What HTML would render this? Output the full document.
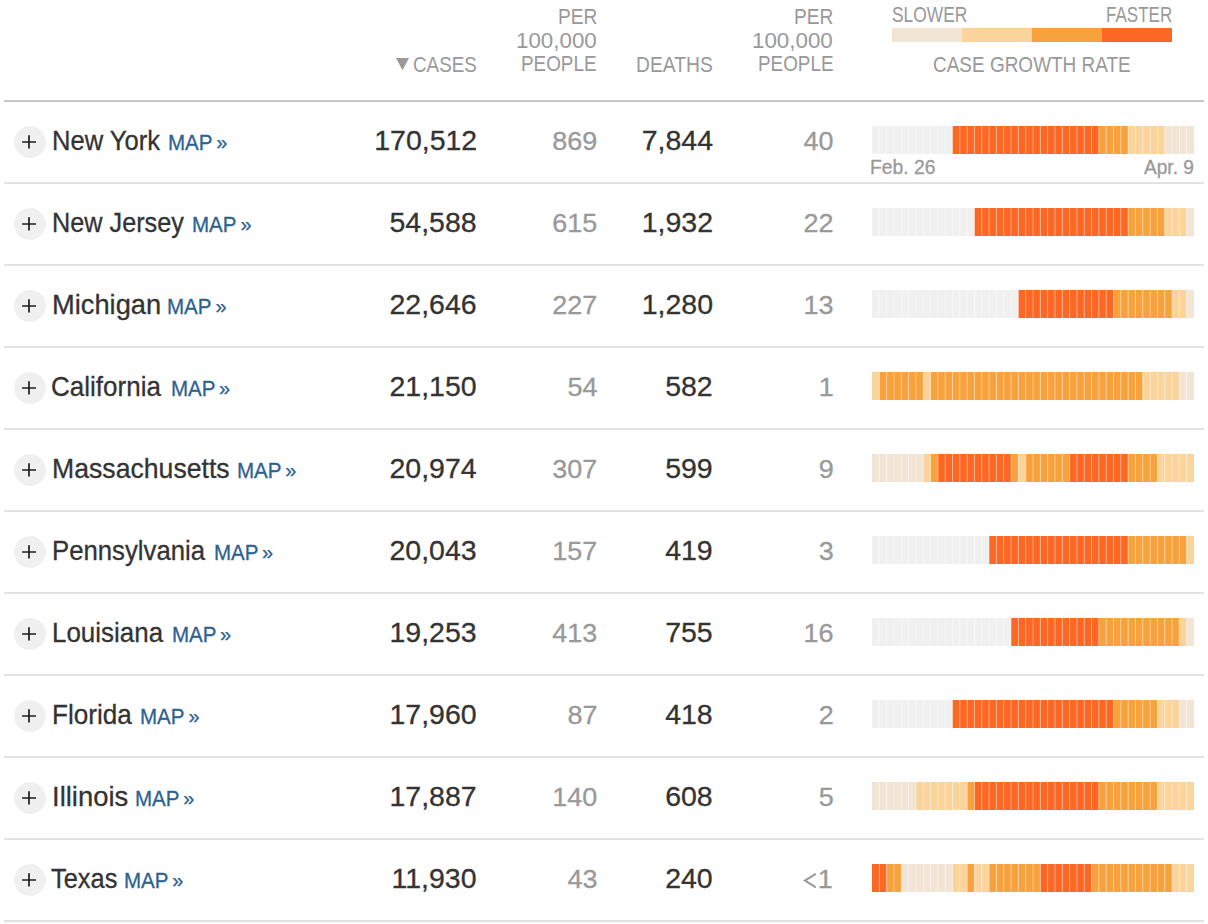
<!DOCTYPE html><html><head><meta charset="utf-8"><style>
*{margin:0;padding:0;box-sizing:border-box}
html,body{width:1208px;height:924px;background:#fff;overflow:hidden}
body{position:relative;font-family:"Liberation Sans",sans-serif}
.a{-webkit-text-stroke:0.3px currentColor}
.a{position:absolute;white-space:nowrap}
.hd{color:#999;font-size:20px;line-height:23.6px;text-align:right}
.ln{position:absolute;left:4px;width:1200px;height:2px}
.circ{position:absolute;left:14px;width:32px;height:32px;border-radius:50%;background:#f0f0f0}
.nm{font-size:28px;line-height:28px;color:#333;transform-origin:0 0}
.mp{font-size:22px;line-height:22px;color:#2c6190;transform-origin:0 0}
.num{font-size:28px;line-height:28px;color:#333;text-align:right;transform-origin:100% 0;transform:scaleX(1.018)}
.gr{color:#999}
.bar{position:absolute;left:872px;width:322px;height:28px}
.bar i{position:absolute;top:0;height:28px;display:block}
.bar i+i{box-shadow:inset 1px 0 0 rgba(255,255,255,.35)}
</style></head><body>
<svg class="a" style="left:0;top:0" width="420" height="80"><path d="M396 58H409L402.5 70.3Z" fill="#999"/></svg>
<div class="a" style="left:413.46px;top:53.55px;font-size:22.5px;line-height:22.5px;color:#999;transform-origin:0 0;transform:scaleX(0.8363);-webkit-text-stroke:0">CASES</div>
<div class="a" style="left:557.53px;top:5.95px;font-size:22.5px;line-height:22.5px;color:#999;transform-origin:0 0;transform:scaleX(0.8529);-webkit-text-stroke:0">PER</div>
<div class="a" style="left:516.20px;top:29.95px;font-size:22.5px;line-height:22.5px;color:#999;transform-origin:0 0;transform:scaleX(0.9927);-webkit-text-stroke:0">100,000</div>
<div class="a" style="left:521.35px;top:53.15px;font-size:22.5px;line-height:22.5px;color:#999;transform-origin:0 0;transform:scaleX(0.8389);-webkit-text-stroke:0">PEOPLE</div>
<div class="a" style="left:793.73px;top:5.95px;font-size:22.5px;line-height:22.5px;color:#999;transform-origin:0 0;transform:scaleX(0.8529);-webkit-text-stroke:0">PER</div>
<div class="a" style="left:752.40px;top:29.95px;font-size:22.5px;line-height:22.5px;color:#999;transform-origin:0 0;transform:scaleX(0.9927);-webkit-text-stroke:0">100,000</div>
<div class="a" style="left:757.55px;top:53.15px;font-size:22.5px;line-height:22.5px;color:#999;transform-origin:0 0;transform:scaleX(0.8389);-webkit-text-stroke:0">PEOPLE</div>
<div class="a" style="left:636.12px;top:53.55px;font-size:22.5px;line-height:22.5px;color:#999;transform-origin:0 0;transform:scaleX(0.8566);-webkit-text-stroke:0">DEATHS</div>
<div class="a" style="left:891.62px;top:3.95px;font-size:22.5px;line-height:22.5px;color:#999;transform-origin:0 0;transform:scaleX(0.7720);-webkit-text-stroke:0">SLOWER</div>
<div class="a" style="left:1105.60px;top:3.95px;font-size:22.5px;line-height:22.5px;color:#999;transform-origin:0 0;transform:scaleX(0.7573);-webkit-text-stroke:0">FASTER</div>
<div class="a" style="left:892px;top:28px;width:280px;height:14px;display:flex"><i style="flex:1;background:#f3e5d5"></i><i style="flex:1;background:#fbd49b"></i><i style="flex:1;background:#f7a23d"></i><i style="flex:1;background:#fd6724"></i></div>
<div class="a" style="left:933.35px;top:53.85px;font-size:22.5px;line-height:22.5px;color:#999;transform-origin:0 0;transform:scaleX(0.8430);-webkit-text-stroke:0">CASE GROWTH RATE</div>
<div class="ln" style="top:100px;background:#c6c6c6"></div>
<div class="circ" style="top:126px"></div>
<svg class="a" style="left:14px;top:126px" width="32" height="32"><path d="M8.1 16H22M15 9.2V22.6" stroke="#1e1e1e" stroke-width="1.7" fill="none"/></svg>
<div class="a nm" style="left:52.40px;top:126.60px;transform:scaleX(0.9133)">New York</div>
<div class="a mp" style="left:168.10px;top:131.55px;font-size:22.5px;line-height:22.5px;transform:scaleX(0.9130)">MAP</div>
<div class="a mp" style="left:216.30px;top:132.47px;font-size:20px;line-height:20px">»</div>
<div class="a num" style="right:731.00px;top:126.60px;font-size:28.0px;line-height:28.0px">170,512</div>
<div class="a num gr" style="right:610.60px;top:127.87px;font-size:26.5px;line-height:26.5px">869</div>
<div class="a num" style="right:494.90px;top:126.60px;font-size:28.0px;line-height:28.0px">7,844</div>
<div class="a num gr" style="right:374.40px;top:127.87px;font-size:26.5px;line-height:26.5px">40</div>
<svg class="a" style="left:872px;top:126px" width="322" height="28"><rect x="0.000" y="0" width="7.338" height="28" fill="#f0f0f0"/><rect x="7.318" y="0" width="7.338" height="28" fill="#f0f0f0"/><rect x="14.636" y="0" width="7.338" height="28" fill="#f0f0f0"/><rect x="21.955" y="0" width="7.338" height="28" fill="#f0f0f0"/><rect x="29.273" y="0" width="7.338" height="28" fill="#f0f0f0"/><rect x="36.591" y="0" width="7.338" height="28" fill="#f0f0f0"/><rect x="43.909" y="0" width="7.338" height="28" fill="#f0f0f0"/><rect x="51.227" y="0" width="7.338" height="28" fill="#f0f0f0"/><rect x="58.545" y="0" width="7.338" height="28" fill="#f0f0f0"/><rect x="65.864" y="0" width="7.338" height="28" fill="#f0f0f0"/><rect x="73.182" y="0" width="7.338" height="28" fill="#f0f0f0"/><rect x="80.500" y="0" width="7.338" height="28" fill="#fd6724"/><rect x="87.818" y="0" width="7.338" height="28" fill="#fd6724"/><rect x="95.136" y="0" width="7.338" height="28" fill="#fd6724"/><rect x="102.455" y="0" width="7.338" height="28" fill="#fd6724"/><rect x="109.773" y="0" width="7.338" height="28" fill="#fd6724"/><rect x="117.091" y="0" width="7.338" height="28" fill="#fd6724"/><rect x="124.409" y="0" width="7.338" height="28" fill="#fd6724"/><rect x="131.727" y="0" width="7.338" height="28" fill="#fd6724"/><rect x="139.045" y="0" width="7.338" height="28" fill="#fd6724"/><rect x="146.364" y="0" width="7.338" height="28" fill="#fd6724"/><rect x="153.682" y="0" width="7.338" height="28" fill="#fd6724"/><rect x="161.000" y="0" width="7.338" height="28" fill="#fd6724"/><rect x="168.318" y="0" width="7.338" height="28" fill="#fd6724"/><rect x="175.636" y="0" width="7.338" height="28" fill="#fd6724"/><rect x="182.955" y="0" width="7.338" height="28" fill="#fd6724"/><rect x="190.273" y="0" width="7.338" height="28" fill="#fd6724"/><rect x="197.591" y="0" width="7.338" height="28" fill="#fd6724"/><rect x="204.909" y="0" width="7.338" height="28" fill="#fd6724"/><rect x="212.227" y="0" width="7.338" height="28" fill="#fd6724"/><rect x="219.545" y="0" width="7.338" height="28" fill="#fd6724"/><rect x="226.864" y="0" width="7.338" height="28" fill="#f7a23d"/><rect x="234.182" y="0" width="7.338" height="28" fill="#f7a23d"/><rect x="241.500" y="0" width="7.338" height="28" fill="#f7a23d"/><rect x="248.818" y="0" width="7.338" height="28" fill="#f7a23d"/><rect x="256.136" y="0" width="7.338" height="28" fill="#fbd49b"/><rect x="263.455" y="0" width="7.338" height="28" fill="#fbd49b"/><rect x="270.773" y="0" width="7.338" height="28" fill="#fbd49b"/><rect x="278.091" y="0" width="7.338" height="28" fill="#fbd49b"/><rect x="285.409" y="0" width="7.338" height="28" fill="#fbd49b"/><rect x="292.727" y="0" width="7.338" height="28" fill="#f3e5d5"/><rect x="300.045" y="0" width="7.338" height="28" fill="#f3e5d5"/><rect x="307.364" y="0" width="7.338" height="28" fill="#f3e5d5"/><rect x="314.682" y="0" width="7.338" height="28" fill="#f3e5d5"/><g fill="#fff" fill-opacity="0.4"><rect x="6.818" y="0" width="1" height="28"/><rect x="14.136" y="0" width="1" height="28"/><rect x="21.455" y="0" width="1" height="28"/><rect x="28.773" y="0" width="1" height="28"/><rect x="36.091" y="0" width="1" height="28"/><rect x="43.409" y="0" width="1" height="28"/><rect x="50.727" y="0" width="1" height="28"/><rect x="58.045" y="0" width="1" height="28"/><rect x="65.364" y="0" width="1" height="28"/><rect x="72.682" y="0" width="1" height="28"/><rect x="80.000" y="0" width="1" height="28"/><rect x="87.318" y="0" width="1" height="28"/><rect x="94.636" y="0" width="1" height="28"/><rect x="101.955" y="0" width="1" height="28"/><rect x="109.273" y="0" width="1" height="28"/><rect x="116.591" y="0" width="1" height="28"/><rect x="123.909" y="0" width="1" height="28"/><rect x="131.227" y="0" width="1" height="28"/><rect x="138.545" y="0" width="1" height="28"/><rect x="145.864" y="0" width="1" height="28"/><rect x="153.182" y="0" width="1" height="28"/><rect x="160.500" y="0" width="1" height="28"/><rect x="167.818" y="0" width="1" height="28"/><rect x="175.136" y="0" width="1" height="28"/><rect x="182.455" y="0" width="1" height="28"/><rect x="189.773" y="0" width="1" height="28"/><rect x="197.091" y="0" width="1" height="28"/><rect x="204.409" y="0" width="1" height="28"/><rect x="211.727" y="0" width="1" height="28"/><rect x="219.045" y="0" width="1" height="28"/><rect x="226.364" y="0" width="1" height="28"/><rect x="233.682" y="0" width="1" height="28"/><rect x="241.000" y="0" width="1" height="28"/><rect x="248.318" y="0" width="1" height="28"/><rect x="255.636" y="0" width="1" height="28"/><rect x="262.955" y="0" width="1" height="28"/><rect x="270.273" y="0" width="1" height="28"/><rect x="277.591" y="0" width="1" height="28"/><rect x="284.909" y="0" width="1" height="28"/><rect x="292.227" y="0" width="1" height="28"/><rect x="299.545" y="0" width="1" height="28"/><rect x="306.864" y="0" width="1" height="28"/><rect x="314.182" y="0" width="1" height="28"/></g></svg>
<div class="a" style="left:870.02px;top:156.87px;font-size:20.0px;line-height:20.0px;color:#999;transform-origin:0 0;transform:scaleX(0.9645)">Feb. 26</div>
<div class="a" style="left:1143.56px;top:156.87px;font-size:20.0px;line-height:20.0px;color:#999;transform-origin:0 0;transform:scaleX(0.9555)">Apr. 9</div>
<div class="ln" style="top:182px;background:#e2e2e2"></div>
<div class="circ" style="top:208px"></div>
<svg class="a" style="left:14px;top:208px" width="32" height="32"><path d="M8.1 16H22M15 9.2V22.6" stroke="#1e1e1e" stroke-width="1.7" fill="none"/></svg>
<div class="a nm" style="left:52.23px;top:208.60px;transform:scaleX(0.9019)">New Jersey</div>
<div class="a mp" style="left:192.40px;top:213.55px;font-size:22.5px;line-height:22.5px;transform:scaleX(0.9130)">MAP</div>
<div class="a mp" style="left:240.60px;top:214.47px;font-size:20px;line-height:20px">»</div>
<div class="a num" style="right:731.00px;top:208.60px;font-size:28.0px;line-height:28.0px">54,588</div>
<div class="a num gr" style="right:610.60px;top:209.87px;font-size:26.5px;line-height:26.5px">615</div>
<div class="a num" style="right:494.90px;top:208.60px;font-size:28.0px;line-height:28.0px">1,932</div>
<div class="a num gr" style="right:374.40px;top:209.87px;font-size:26.5px;line-height:26.5px">22</div>
<svg class="a" style="left:872px;top:208px" width="322" height="28"><rect x="0.000" y="0" width="7.338" height="28" fill="#f0f0f0"/><rect x="7.318" y="0" width="7.338" height="28" fill="#f0f0f0"/><rect x="14.636" y="0" width="7.338" height="28" fill="#f0f0f0"/><rect x="21.955" y="0" width="7.338" height="28" fill="#f0f0f0"/><rect x="29.273" y="0" width="7.338" height="28" fill="#f0f0f0"/><rect x="36.591" y="0" width="7.338" height="28" fill="#f0f0f0"/><rect x="43.909" y="0" width="7.338" height="28" fill="#f0f0f0"/><rect x="51.227" y="0" width="7.338" height="28" fill="#f0f0f0"/><rect x="58.545" y="0" width="7.338" height="28" fill="#f0f0f0"/><rect x="65.864" y="0" width="7.338" height="28" fill="#f0f0f0"/><rect x="73.182" y="0" width="7.338" height="28" fill="#f0f0f0"/><rect x="80.500" y="0" width="7.338" height="28" fill="#f0f0f0"/><rect x="87.818" y="0" width="7.338" height="28" fill="#f0f0f0"/><rect x="95.136" y="0" width="7.338" height="28" fill="#f0f0f0"/><rect x="102.455" y="0" width="7.338" height="28" fill="#fd6724"/><rect x="109.773" y="0" width="7.338" height="28" fill="#fd6724"/><rect x="117.091" y="0" width="7.338" height="28" fill="#fd6724"/><rect x="124.409" y="0" width="7.338" height="28" fill="#fd6724"/><rect x="131.727" y="0" width="7.338" height="28" fill="#fd6724"/><rect x="139.045" y="0" width="7.338" height="28" fill="#fd6724"/><rect x="146.364" y="0" width="7.338" height="28" fill="#fd6724"/><rect x="153.682" y="0" width="7.338" height="28" fill="#fd6724"/><rect x="161.000" y="0" width="7.338" height="28" fill="#fd6724"/><rect x="168.318" y="0" width="7.338" height="28" fill="#fd6724"/><rect x="175.636" y="0" width="7.338" height="28" fill="#fd6724"/><rect x="182.955" y="0" width="7.338" height="28" fill="#fd6724"/><rect x="190.273" y="0" width="7.338" height="28" fill="#fd6724"/><rect x="197.591" y="0" width="7.338" height="28" fill="#fd6724"/><rect x="204.909" y="0" width="7.338" height="28" fill="#fd6724"/><rect x="212.227" y="0" width="7.338" height="28" fill="#fd6724"/><rect x="219.545" y="0" width="7.338" height="28" fill="#fd6724"/><rect x="226.864" y="0" width="7.338" height="28" fill="#fd6724"/><rect x="234.182" y="0" width="7.338" height="28" fill="#fd6724"/><rect x="241.500" y="0" width="7.338" height="28" fill="#fd6724"/><rect x="248.818" y="0" width="7.338" height="28" fill="#fd6724"/><rect x="256.136" y="0" width="7.338" height="28" fill="#f7a23d"/><rect x="263.455" y="0" width="7.338" height="28" fill="#f7a23d"/><rect x="270.773" y="0" width="7.338" height="28" fill="#f7a23d"/><rect x="278.091" y="0" width="7.338" height="28" fill="#f7a23d"/><rect x="285.409" y="0" width="7.338" height="28" fill="#f7a23d"/><rect x="292.727" y="0" width="7.338" height="28" fill="#fbd49b"/><rect x="300.045" y="0" width="7.338" height="28" fill="#fbd49b"/><rect x="307.364" y="0" width="7.338" height="28" fill="#fbd49b"/><rect x="314.682" y="0" width="7.338" height="28" fill="#f3e5d5"/><g fill="#fff" fill-opacity="0.4"><rect x="6.818" y="0" width="1" height="28"/><rect x="14.136" y="0" width="1" height="28"/><rect x="21.455" y="0" width="1" height="28"/><rect x="28.773" y="0" width="1" height="28"/><rect x="36.091" y="0" width="1" height="28"/><rect x="43.409" y="0" width="1" height="28"/><rect x="50.727" y="0" width="1" height="28"/><rect x="58.045" y="0" width="1" height="28"/><rect x="65.364" y="0" width="1" height="28"/><rect x="72.682" y="0" width="1" height="28"/><rect x="80.000" y="0" width="1" height="28"/><rect x="87.318" y="0" width="1" height="28"/><rect x="94.636" y="0" width="1" height="28"/><rect x="101.955" y="0" width="1" height="28"/><rect x="109.273" y="0" width="1" height="28"/><rect x="116.591" y="0" width="1" height="28"/><rect x="123.909" y="0" width="1" height="28"/><rect x="131.227" y="0" width="1" height="28"/><rect x="138.545" y="0" width="1" height="28"/><rect x="145.864" y="0" width="1" height="28"/><rect x="153.182" y="0" width="1" height="28"/><rect x="160.500" y="0" width="1" height="28"/><rect x="167.818" y="0" width="1" height="28"/><rect x="175.136" y="0" width="1" height="28"/><rect x="182.455" y="0" width="1" height="28"/><rect x="189.773" y="0" width="1" height="28"/><rect x="197.091" y="0" width="1" height="28"/><rect x="204.409" y="0" width="1" height="28"/><rect x="211.727" y="0" width="1" height="28"/><rect x="219.045" y="0" width="1" height="28"/><rect x="226.364" y="0" width="1" height="28"/><rect x="233.682" y="0" width="1" height="28"/><rect x="241.000" y="0" width="1" height="28"/><rect x="248.318" y="0" width="1" height="28"/><rect x="255.636" y="0" width="1" height="28"/><rect x="262.955" y="0" width="1" height="28"/><rect x="270.273" y="0" width="1" height="28"/><rect x="277.591" y="0" width="1" height="28"/><rect x="284.909" y="0" width="1" height="28"/><rect x="292.227" y="0" width="1" height="28"/><rect x="299.545" y="0" width="1" height="28"/><rect x="306.864" y="0" width="1" height="28"/><rect x="314.182" y="0" width="1" height="28"/></g></svg>
<div class="ln" style="top:264px;background:#e2e2e2"></div>
<div class="circ" style="top:290px"></div>
<svg class="a" style="left:14px;top:290px" width="32" height="32"><path d="M8.1 16H22M15 9.2V22.6" stroke="#1e1e1e" stroke-width="1.7" fill="none"/></svg>
<div class="a nm" style="left:52.06px;top:290.60px;transform:scaleX(0.9744)">Michigan</div>
<div class="a mp" style="left:167.40px;top:295.55px;font-size:22.5px;line-height:22.5px;transform:scaleX(0.9130)">MAP</div>
<div class="a mp" style="left:215.60px;top:296.47px;font-size:20px;line-height:20px">»</div>
<div class="a num" style="right:731.00px;top:290.60px;font-size:28.0px;line-height:28.0px">22,646</div>
<div class="a num gr" style="right:610.60px;top:291.87px;font-size:26.5px;line-height:26.5px">227</div>
<div class="a num" style="right:494.90px;top:290.60px;font-size:28.0px;line-height:28.0px">1,280</div>
<div class="a num gr" style="right:374.40px;top:291.87px;font-size:26.5px;line-height:26.5px">13</div>
<svg class="a" style="left:872px;top:290px" width="322" height="28"><rect x="0.000" y="0" width="7.338" height="28" fill="#f0f0f0"/><rect x="7.318" y="0" width="7.338" height="28" fill="#f0f0f0"/><rect x="14.636" y="0" width="7.338" height="28" fill="#f0f0f0"/><rect x="21.955" y="0" width="7.338" height="28" fill="#f0f0f0"/><rect x="29.273" y="0" width="7.338" height="28" fill="#f0f0f0"/><rect x="36.591" y="0" width="7.338" height="28" fill="#f0f0f0"/><rect x="43.909" y="0" width="7.338" height="28" fill="#f0f0f0"/><rect x="51.227" y="0" width="7.338" height="28" fill="#f0f0f0"/><rect x="58.545" y="0" width="7.338" height="28" fill="#f0f0f0"/><rect x="65.864" y="0" width="7.338" height="28" fill="#f0f0f0"/><rect x="73.182" y="0" width="7.338" height="28" fill="#f0f0f0"/><rect x="80.500" y="0" width="7.338" height="28" fill="#f0f0f0"/><rect x="87.818" y="0" width="7.338" height="28" fill="#f0f0f0"/><rect x="95.136" y="0" width="7.338" height="28" fill="#f0f0f0"/><rect x="102.455" y="0" width="7.338" height="28" fill="#f0f0f0"/><rect x="109.773" y="0" width="7.338" height="28" fill="#f0f0f0"/><rect x="117.091" y="0" width="7.338" height="28" fill="#f0f0f0"/><rect x="124.409" y="0" width="7.338" height="28" fill="#f0f0f0"/><rect x="131.727" y="0" width="7.338" height="28" fill="#f0f0f0"/><rect x="139.045" y="0" width="7.338" height="28" fill="#f0f0f0"/><rect x="146.364" y="0" width="7.338" height="28" fill="#fd6724"/><rect x="153.682" y="0" width="7.338" height="28" fill="#fd6724"/><rect x="161.000" y="0" width="7.338" height="28" fill="#fd6724"/><rect x="168.318" y="0" width="7.338" height="28" fill="#fd6724"/><rect x="175.636" y="0" width="7.338" height="28" fill="#fd6724"/><rect x="182.955" y="0" width="7.338" height="28" fill="#fd6724"/><rect x="190.273" y="0" width="7.338" height="28" fill="#fd6724"/><rect x="197.591" y="0" width="7.338" height="28" fill="#fd6724"/><rect x="204.909" y="0" width="7.338" height="28" fill="#fd6724"/><rect x="212.227" y="0" width="7.338" height="28" fill="#fd6724"/><rect x="219.545" y="0" width="7.338" height="28" fill="#fd6724"/><rect x="226.864" y="0" width="7.338" height="28" fill="#fd6724"/><rect x="234.182" y="0" width="7.338" height="28" fill="#fd6724"/><rect x="241.500" y="0" width="7.338" height="28" fill="#f7a23d"/><rect x="248.818" y="0" width="7.338" height="28" fill="#f7a23d"/><rect x="256.136" y="0" width="7.338" height="28" fill="#f7a23d"/><rect x="263.455" y="0" width="7.338" height="28" fill="#f7a23d"/><rect x="270.773" y="0" width="7.338" height="28" fill="#f7a23d"/><rect x="278.091" y="0" width="7.338" height="28" fill="#f7a23d"/><rect x="285.409" y="0" width="7.338" height="28" fill="#f7a23d"/><rect x="292.727" y="0" width="7.338" height="28" fill="#f7a23d"/><rect x="300.045" y="0" width="7.338" height="28" fill="#fbd49b"/><rect x="307.364" y="0" width="7.338" height="28" fill="#fbd49b"/><rect x="314.682" y="0" width="7.338" height="28" fill="#f3e5d5"/><g fill="#fff" fill-opacity="0.4"><rect x="6.818" y="0" width="1" height="28"/><rect x="14.136" y="0" width="1" height="28"/><rect x="21.455" y="0" width="1" height="28"/><rect x="28.773" y="0" width="1" height="28"/><rect x="36.091" y="0" width="1" height="28"/><rect x="43.409" y="0" width="1" height="28"/><rect x="50.727" y="0" width="1" height="28"/><rect x="58.045" y="0" width="1" height="28"/><rect x="65.364" y="0" width="1" height="28"/><rect x="72.682" y="0" width="1" height="28"/><rect x="80.000" y="0" width="1" height="28"/><rect x="87.318" y="0" width="1" height="28"/><rect x="94.636" y="0" width="1" height="28"/><rect x="101.955" y="0" width="1" height="28"/><rect x="109.273" y="0" width="1" height="28"/><rect x="116.591" y="0" width="1" height="28"/><rect x="123.909" y="0" width="1" height="28"/><rect x="131.227" y="0" width="1" height="28"/><rect x="138.545" y="0" width="1" height="28"/><rect x="145.864" y="0" width="1" height="28"/><rect x="153.182" y="0" width="1" height="28"/><rect x="160.500" y="0" width="1" height="28"/><rect x="167.818" y="0" width="1" height="28"/><rect x="175.136" y="0" width="1" height="28"/><rect x="182.455" y="0" width="1" height="28"/><rect x="189.773" y="0" width="1" height="28"/><rect x="197.091" y="0" width="1" height="28"/><rect x="204.409" y="0" width="1" height="28"/><rect x="211.727" y="0" width="1" height="28"/><rect x="219.045" y="0" width="1" height="28"/><rect x="226.364" y="0" width="1" height="28"/><rect x="233.682" y="0" width="1" height="28"/><rect x="241.000" y="0" width="1" height="28"/><rect x="248.318" y="0" width="1" height="28"/><rect x="255.636" y="0" width="1" height="28"/><rect x="262.955" y="0" width="1" height="28"/><rect x="270.273" y="0" width="1" height="28"/><rect x="277.591" y="0" width="1" height="28"/><rect x="284.909" y="0" width="1" height="28"/><rect x="292.227" y="0" width="1" height="28"/><rect x="299.545" y="0" width="1" height="28"/><rect x="306.864" y="0" width="1" height="28"/><rect x="314.182" y="0" width="1" height="28"/></g></svg>
<div class="ln" style="top:346px;background:#e2e2e2"></div>
<div class="circ" style="top:372px"></div>
<svg class="a" style="left:14px;top:372px" width="32" height="32"><path d="M8.1 16H22M15 9.2V22.6" stroke="#1e1e1e" stroke-width="1.7" fill="none"/></svg>
<div class="a nm" style="left:51.20px;top:372.60px;transform:scaleX(0.9290)">California</div>
<div class="a mp" style="left:170.70px;top:377.55px;font-size:22.5px;line-height:22.5px;transform:scaleX(0.9130)">MAP</div>
<div class="a mp" style="left:218.90px;top:378.47px;font-size:20px;line-height:20px">»</div>
<div class="a num" style="right:731.00px;top:372.60px;font-size:28.0px;line-height:28.0px">21,150</div>
<div class="a num gr" style="right:610.60px;top:373.87px;font-size:26.5px;line-height:26.5px">54</div>
<div class="a num" style="right:494.90px;top:372.60px;font-size:28.0px;line-height:28.0px">582</div>
<div class="a num gr" style="right:374.40px;top:373.87px;font-size:26.5px;line-height:26.5px">1</div>
<svg class="a" style="left:872px;top:372px" width="322" height="28"><rect x="0.000" y="0" width="7.338" height="28" fill="#fbd49b"/><rect x="7.318" y="0" width="7.338" height="28" fill="#f7a23d"/><rect x="14.636" y="0" width="7.338" height="28" fill="#f7a23d"/><rect x="21.955" y="0" width="7.338" height="28" fill="#f7a23d"/><rect x="29.273" y="0" width="7.338" height="28" fill="#f7a23d"/><rect x="36.591" y="0" width="7.338" height="28" fill="#f7a23d"/><rect x="43.909" y="0" width="7.338" height="28" fill="#f7a23d"/><rect x="51.227" y="0" width="7.338" height="28" fill="#fbd49b"/><rect x="58.545" y="0" width="7.338" height="28" fill="#f7a23d"/><rect x="65.864" y="0" width="7.338" height="28" fill="#f7a23d"/><rect x="73.182" y="0" width="7.338" height="28" fill="#f7a23d"/><rect x="80.500" y="0" width="7.338" height="28" fill="#f7a23d"/><rect x="87.818" y="0" width="7.338" height="28" fill="#f7a23d"/><rect x="95.136" y="0" width="7.338" height="28" fill="#f7a23d"/><rect x="102.455" y="0" width="7.338" height="28" fill="#f7a23d"/><rect x="109.773" y="0" width="7.338" height="28" fill="#f7a23d"/><rect x="117.091" y="0" width="7.338" height="28" fill="#f7a23d"/><rect x="124.409" y="0" width="7.338" height="28" fill="#f7a23d"/><rect x="131.727" y="0" width="7.338" height="28" fill="#f7a23d"/><rect x="139.045" y="0" width="7.338" height="28" fill="#f7a23d"/><rect x="146.364" y="0" width="7.338" height="28" fill="#f7a23d"/><rect x="153.682" y="0" width="7.338" height="28" fill="#f7a23d"/><rect x="161.000" y="0" width="7.338" height="28" fill="#f7a23d"/><rect x="168.318" y="0" width="7.338" height="28" fill="#f7a23d"/><rect x="175.636" y="0" width="7.338" height="28" fill="#f7a23d"/><rect x="182.955" y="0" width="7.338" height="28" fill="#f7a23d"/><rect x="190.273" y="0" width="7.338" height="28" fill="#f7a23d"/><rect x="197.591" y="0" width="7.338" height="28" fill="#f7a23d"/><rect x="204.909" y="0" width="7.338" height="28" fill="#f7a23d"/><rect x="212.227" y="0" width="7.338" height="28" fill="#f7a23d"/><rect x="219.545" y="0" width="7.338" height="28" fill="#f7a23d"/><rect x="226.864" y="0" width="7.338" height="28" fill="#f7a23d"/><rect x="234.182" y="0" width="7.338" height="28" fill="#f7a23d"/><rect x="241.500" y="0" width="7.338" height="28" fill="#f7a23d"/><rect x="248.818" y="0" width="7.338" height="28" fill="#f7a23d"/><rect x="256.136" y="0" width="7.338" height="28" fill="#f7a23d"/><rect x="263.455" y="0" width="7.338" height="28" fill="#f7a23d"/><rect x="270.773" y="0" width="7.338" height="28" fill="#fbd49b"/><rect x="278.091" y="0" width="7.338" height="28" fill="#fbd49b"/><rect x="285.409" y="0" width="7.338" height="28" fill="#fbd49b"/><rect x="292.727" y="0" width="7.338" height="28" fill="#fbd49b"/><rect x="300.045" y="0" width="7.338" height="28" fill="#fbd49b"/><rect x="307.364" y="0" width="7.338" height="28" fill="#f3e5d5"/><rect x="314.682" y="0" width="7.338" height="28" fill="#f3e5d5"/><g fill="#fff" fill-opacity="0.4"><rect x="6.818" y="0" width="1" height="28"/><rect x="14.136" y="0" width="1" height="28"/><rect x="21.455" y="0" width="1" height="28"/><rect x="28.773" y="0" width="1" height="28"/><rect x="36.091" y="0" width="1" height="28"/><rect x="43.409" y="0" width="1" height="28"/><rect x="50.727" y="0" width="1" height="28"/><rect x="58.045" y="0" width="1" height="28"/><rect x="65.364" y="0" width="1" height="28"/><rect x="72.682" y="0" width="1" height="28"/><rect x="80.000" y="0" width="1" height="28"/><rect x="87.318" y="0" width="1" height="28"/><rect x="94.636" y="0" width="1" height="28"/><rect x="101.955" y="0" width="1" height="28"/><rect x="109.273" y="0" width="1" height="28"/><rect x="116.591" y="0" width="1" height="28"/><rect x="123.909" y="0" width="1" height="28"/><rect x="131.227" y="0" width="1" height="28"/><rect x="138.545" y="0" width="1" height="28"/><rect x="145.864" y="0" width="1" height="28"/><rect x="153.182" y="0" width="1" height="28"/><rect x="160.500" y="0" width="1" height="28"/><rect x="167.818" y="0" width="1" height="28"/><rect x="175.136" y="0" width="1" height="28"/><rect x="182.455" y="0" width="1" height="28"/><rect x="189.773" y="0" width="1" height="28"/><rect x="197.091" y="0" width="1" height="28"/><rect x="204.409" y="0" width="1" height="28"/><rect x="211.727" y="0" width="1" height="28"/><rect x="219.045" y="0" width="1" height="28"/><rect x="226.364" y="0" width="1" height="28"/><rect x="233.682" y="0" width="1" height="28"/><rect x="241.000" y="0" width="1" height="28"/><rect x="248.318" y="0" width="1" height="28"/><rect x="255.636" y="0" width="1" height="28"/><rect x="262.955" y="0" width="1" height="28"/><rect x="270.273" y="0" width="1" height="28"/><rect x="277.591" y="0" width="1" height="28"/><rect x="284.909" y="0" width="1" height="28"/><rect x="292.227" y="0" width="1" height="28"/><rect x="299.545" y="0" width="1" height="28"/><rect x="306.864" y="0" width="1" height="28"/><rect x="314.182" y="0" width="1" height="28"/></g></svg>
<div class="ln" style="top:428px;background:#e2e2e2"></div>
<div class="circ" style="top:454px"></div>
<svg class="a" style="left:14px;top:454px" width="32" height="32"><path d="M8.1 16H22M15 9.2V22.6" stroke="#1e1e1e" stroke-width="1.7" fill="none"/></svg>
<div class="a nm" style="left:52.12px;top:454.60px;transform:scaleX(0.9513)">Massachusetts</div>
<div class="a mp" style="left:237.00px;top:459.55px;font-size:22.5px;line-height:22.5px;transform:scaleX(0.9130)">MAP</div>
<div class="a mp" style="left:285.20px;top:460.47px;font-size:20px;line-height:20px">»</div>
<div class="a num" style="right:731.00px;top:454.60px;font-size:28.0px;line-height:28.0px">20,974</div>
<div class="a num gr" style="right:610.60px;top:455.87px;font-size:26.5px;line-height:26.5px">307</div>
<div class="a num" style="right:494.90px;top:454.60px;font-size:28.0px;line-height:28.0px">599</div>
<div class="a num gr" style="right:374.40px;top:455.87px;font-size:26.5px;line-height:26.5px">9</div>
<svg class="a" style="left:872px;top:454px" width="322" height="28"><rect x="0.000" y="0" width="7.338" height="28" fill="#f3e5d5"/><rect x="7.318" y="0" width="7.338" height="28" fill="#f3e5d5"/><rect x="14.636" y="0" width="7.338" height="28" fill="#f3e5d5"/><rect x="21.955" y="0" width="7.338" height="28" fill="#f3e5d5"/><rect x="29.273" y="0" width="7.338" height="28" fill="#f3e5d5"/><rect x="36.591" y="0" width="7.338" height="28" fill="#f3e5d5"/><rect x="43.909" y="0" width="7.338" height="28" fill="#f3e5d5"/><rect x="51.227" y="0" width="7.338" height="28" fill="#fbd49b"/><rect x="58.545" y="0" width="7.338" height="28" fill="#f7a23d"/><rect x="65.864" y="0" width="7.338" height="28" fill="#fd6724"/><rect x="73.182" y="0" width="7.338" height="28" fill="#fd6724"/><rect x="80.500" y="0" width="7.338" height="28" fill="#fd6724"/><rect x="87.818" y="0" width="7.338" height="28" fill="#fd6724"/><rect x="95.136" y="0" width="7.338" height="28" fill="#fd6724"/><rect x="102.455" y="0" width="7.338" height="28" fill="#fd6724"/><rect x="109.773" y="0" width="7.338" height="28" fill="#fd6724"/><rect x="117.091" y="0" width="7.338" height="28" fill="#fd6724"/><rect x="124.409" y="0" width="7.338" height="28" fill="#fd6724"/><rect x="131.727" y="0" width="7.338" height="28" fill="#fd6724"/><rect x="139.045" y="0" width="7.338" height="28" fill="#f7a23d"/><rect x="146.364" y="0" width="7.338" height="28" fill="#fbd49b"/><rect x="153.682" y="0" width="7.338" height="28" fill="#f7a23d"/><rect x="161.000" y="0" width="7.338" height="28" fill="#f7a23d"/><rect x="168.318" y="0" width="7.338" height="28" fill="#f7a23d"/><rect x="175.636" y="0" width="7.338" height="28" fill="#f7a23d"/><rect x="182.955" y="0" width="7.338" height="28" fill="#f7a23d"/><rect x="190.273" y="0" width="7.338" height="28" fill="#f7a23d"/><rect x="197.591" y="0" width="7.338" height="28" fill="#fd6724"/><rect x="204.909" y="0" width="7.338" height="28" fill="#fd6724"/><rect x="212.227" y="0" width="7.338" height="28" fill="#fd6724"/><rect x="219.545" y="0" width="7.338" height="28" fill="#fd6724"/><rect x="226.864" y="0" width="7.338" height="28" fill="#fd6724"/><rect x="234.182" y="0" width="7.338" height="28" fill="#fd6724"/><rect x="241.500" y="0" width="7.338" height="28" fill="#fd6724"/><rect x="248.818" y="0" width="7.338" height="28" fill="#fd6724"/><rect x="256.136" y="0" width="7.338" height="28" fill="#f7a23d"/><rect x="263.455" y="0" width="7.338" height="28" fill="#f7a23d"/><rect x="270.773" y="0" width="7.338" height="28" fill="#f7a23d"/><rect x="278.091" y="0" width="7.338" height="28" fill="#f7a23d"/><rect x="285.409" y="0" width="7.338" height="28" fill="#fbd49b"/><rect x="292.727" y="0" width="7.338" height="28" fill="#fbd49b"/><rect x="300.045" y="0" width="7.338" height="28" fill="#fbd49b"/><rect x="307.364" y="0" width="7.338" height="28" fill="#fbd49b"/><rect x="314.682" y="0" width="7.338" height="28" fill="#fbd49b"/><g fill="#fff" fill-opacity="0.4"><rect x="6.818" y="0" width="1" height="28"/><rect x="14.136" y="0" width="1" height="28"/><rect x="21.455" y="0" width="1" height="28"/><rect x="28.773" y="0" width="1" height="28"/><rect x="36.091" y="0" width="1" height="28"/><rect x="43.409" y="0" width="1" height="28"/><rect x="50.727" y="0" width="1" height="28"/><rect x="58.045" y="0" width="1" height="28"/><rect x="65.364" y="0" width="1" height="28"/><rect x="72.682" y="0" width="1" height="28"/><rect x="80.000" y="0" width="1" height="28"/><rect x="87.318" y="0" width="1" height="28"/><rect x="94.636" y="0" width="1" height="28"/><rect x="101.955" y="0" width="1" height="28"/><rect x="109.273" y="0" width="1" height="28"/><rect x="116.591" y="0" width="1" height="28"/><rect x="123.909" y="0" width="1" height="28"/><rect x="131.227" y="0" width="1" height="28"/><rect x="138.545" y="0" width="1" height="28"/><rect x="145.864" y="0" width="1" height="28"/><rect x="153.182" y="0" width="1" height="28"/><rect x="160.500" y="0" width="1" height="28"/><rect x="167.818" y="0" width="1" height="28"/><rect x="175.136" y="0" width="1" height="28"/><rect x="182.455" y="0" width="1" height="28"/><rect x="189.773" y="0" width="1" height="28"/><rect x="197.091" y="0" width="1" height="28"/><rect x="204.409" y="0" width="1" height="28"/><rect x="211.727" y="0" width="1" height="28"/><rect x="219.045" y="0" width="1" height="28"/><rect x="226.364" y="0" width="1" height="28"/><rect x="233.682" y="0" width="1" height="28"/><rect x="241.000" y="0" width="1" height="28"/><rect x="248.318" y="0" width="1" height="28"/><rect x="255.636" y="0" width="1" height="28"/><rect x="262.955" y="0" width="1" height="28"/><rect x="270.273" y="0" width="1" height="28"/><rect x="277.591" y="0" width="1" height="28"/><rect x="284.909" y="0" width="1" height="28"/><rect x="292.227" y="0" width="1" height="28"/><rect x="299.545" y="0" width="1" height="28"/><rect x="306.864" y="0" width="1" height="28"/><rect x="314.182" y="0" width="1" height="28"/></g></svg>
<div class="ln" style="top:510px;background:#e2e2e2"></div>
<div class="circ" style="top:536px"></div>
<svg class="a" style="left:14px;top:536px" width="32" height="32"><path d="M8.1 16H22M15 9.2V22.6" stroke="#1e1e1e" stroke-width="1.7" fill="none"/></svg>
<div class="a nm" style="left:52.19px;top:536.60px;transform:scaleX(0.9192)">Pennsylvania</div>
<div class="a mp" style="left:213.80px;top:541.55px;font-size:22.5px;line-height:22.5px;transform:scaleX(0.9130)">MAP</div>
<div class="a mp" style="left:262.00px;top:542.47px;font-size:20px;line-height:20px">»</div>
<div class="a num" style="right:731.00px;top:536.60px;font-size:28.0px;line-height:28.0px">20,043</div>
<div class="a num gr" style="right:610.60px;top:537.87px;font-size:26.5px;line-height:26.5px">157</div>
<div class="a num" style="right:494.90px;top:536.60px;font-size:28.0px;line-height:28.0px">419</div>
<div class="a num gr" style="right:374.40px;top:537.87px;font-size:26.5px;line-height:26.5px">3</div>
<svg class="a" style="left:872px;top:536px" width="322" height="28"><rect x="0.000" y="0" width="7.338" height="28" fill="#f0f0f0"/><rect x="7.318" y="0" width="7.338" height="28" fill="#f0f0f0"/><rect x="14.636" y="0" width="7.338" height="28" fill="#f0f0f0"/><rect x="21.955" y="0" width="7.338" height="28" fill="#f0f0f0"/><rect x="29.273" y="0" width="7.338" height="28" fill="#f0f0f0"/><rect x="36.591" y="0" width="7.338" height="28" fill="#f0f0f0"/><rect x="43.909" y="0" width="7.338" height="28" fill="#f0f0f0"/><rect x="51.227" y="0" width="7.338" height="28" fill="#f0f0f0"/><rect x="58.545" y="0" width="7.338" height="28" fill="#f0f0f0"/><rect x="65.864" y="0" width="7.338" height="28" fill="#f0f0f0"/><rect x="73.182" y="0" width="7.338" height="28" fill="#f0f0f0"/><rect x="80.500" y="0" width="7.338" height="28" fill="#f0f0f0"/><rect x="87.818" y="0" width="7.338" height="28" fill="#f0f0f0"/><rect x="95.136" y="0" width="7.338" height="28" fill="#f0f0f0"/><rect x="102.455" y="0" width="7.338" height="28" fill="#f0f0f0"/><rect x="109.773" y="0" width="7.338" height="28" fill="#f0f0f0"/><rect x="117.091" y="0" width="7.338" height="28" fill="#fd6724"/><rect x="124.409" y="0" width="7.338" height="28" fill="#fd6724"/><rect x="131.727" y="0" width="7.338" height="28" fill="#fd6724"/><rect x="139.045" y="0" width="7.338" height="28" fill="#fd6724"/><rect x="146.364" y="0" width="7.338" height="28" fill="#fd6724"/><rect x="153.682" y="0" width="7.338" height="28" fill="#fd6724"/><rect x="161.000" y="0" width="7.338" height="28" fill="#fd6724"/><rect x="168.318" y="0" width="7.338" height="28" fill="#fd6724"/><rect x="175.636" y="0" width="7.338" height="28" fill="#fd6724"/><rect x="182.955" y="0" width="7.338" height="28" fill="#fd6724"/><rect x="190.273" y="0" width="7.338" height="28" fill="#fd6724"/><rect x="197.591" y="0" width="7.338" height="28" fill="#fd6724"/><rect x="204.909" y="0" width="7.338" height="28" fill="#fd6724"/><rect x="212.227" y="0" width="7.338" height="28" fill="#fd6724"/><rect x="219.545" y="0" width="7.338" height="28" fill="#fd6724"/><rect x="226.864" y="0" width="7.338" height="28" fill="#fd6724"/><rect x="234.182" y="0" width="7.338" height="28" fill="#fd6724"/><rect x="241.500" y="0" width="7.338" height="28" fill="#fd6724"/><rect x="248.818" y="0" width="7.338" height="28" fill="#fd6724"/><rect x="256.136" y="0" width="7.338" height="28" fill="#f7a23d"/><rect x="263.455" y="0" width="7.338" height="28" fill="#f7a23d"/><rect x="270.773" y="0" width="7.338" height="28" fill="#f7a23d"/><rect x="278.091" y="0" width="7.338" height="28" fill="#f7a23d"/><rect x="285.409" y="0" width="7.338" height="28" fill="#f7a23d"/><rect x="292.727" y="0" width="7.338" height="28" fill="#f7a23d"/><rect x="300.045" y="0" width="7.338" height="28" fill="#f7a23d"/><rect x="307.364" y="0" width="7.338" height="28" fill="#f7a23d"/><rect x="314.682" y="0" width="7.338" height="28" fill="#fbd49b"/><g fill="#fff" fill-opacity="0.4"><rect x="6.818" y="0" width="1" height="28"/><rect x="14.136" y="0" width="1" height="28"/><rect x="21.455" y="0" width="1" height="28"/><rect x="28.773" y="0" width="1" height="28"/><rect x="36.091" y="0" width="1" height="28"/><rect x="43.409" y="0" width="1" height="28"/><rect x="50.727" y="0" width="1" height="28"/><rect x="58.045" y="0" width="1" height="28"/><rect x="65.364" y="0" width="1" height="28"/><rect x="72.682" y="0" width="1" height="28"/><rect x="80.000" y="0" width="1" height="28"/><rect x="87.318" y="0" width="1" height="28"/><rect x="94.636" y="0" width="1" height="28"/><rect x="101.955" y="0" width="1" height="28"/><rect x="109.273" y="0" width="1" height="28"/><rect x="116.591" y="0" width="1" height="28"/><rect x="123.909" y="0" width="1" height="28"/><rect x="131.227" y="0" width="1" height="28"/><rect x="138.545" y="0" width="1" height="28"/><rect x="145.864" y="0" width="1" height="28"/><rect x="153.182" y="0" width="1" height="28"/><rect x="160.500" y="0" width="1" height="28"/><rect x="167.818" y="0" width="1" height="28"/><rect x="175.136" y="0" width="1" height="28"/><rect x="182.455" y="0" width="1" height="28"/><rect x="189.773" y="0" width="1" height="28"/><rect x="197.091" y="0" width="1" height="28"/><rect x="204.409" y="0" width="1" height="28"/><rect x="211.727" y="0" width="1" height="28"/><rect x="219.045" y="0" width="1" height="28"/><rect x="226.364" y="0" width="1" height="28"/><rect x="233.682" y="0" width="1" height="28"/><rect x="241.000" y="0" width="1" height="28"/><rect x="248.318" y="0" width="1" height="28"/><rect x="255.636" y="0" width="1" height="28"/><rect x="262.955" y="0" width="1" height="28"/><rect x="270.273" y="0" width="1" height="28"/><rect x="277.591" y="0" width="1" height="28"/><rect x="284.909" y="0" width="1" height="28"/><rect x="292.227" y="0" width="1" height="28"/><rect x="299.545" y="0" width="1" height="28"/><rect x="306.864" y="0" width="1" height="28"/><rect x="314.182" y="0" width="1" height="28"/></g></svg>
<div class="ln" style="top:592px;background:#e2e2e2"></div>
<div class="circ" style="top:618px"></div>
<svg class="a" style="left:14px;top:618px" width="32" height="32"><path d="M8.1 16H22M15 9.2V22.6" stroke="#1e1e1e" stroke-width="1.7" fill="none"/></svg>
<div class="a nm" style="left:52.17px;top:618.60px;transform:scaleX(0.9269)">Louisiana</div>
<div class="a mp" style="left:171.80px;top:623.55px;font-size:22.5px;line-height:22.5px;transform:scaleX(0.9130)">MAP</div>
<div class="a mp" style="left:220.00px;top:624.47px;font-size:20px;line-height:20px">»</div>
<div class="a num" style="right:731.00px;top:618.60px;font-size:28.0px;line-height:28.0px">19,253</div>
<div class="a num gr" style="right:610.60px;top:619.87px;font-size:26.5px;line-height:26.5px">413</div>
<div class="a num" style="right:494.90px;top:618.60px;font-size:28.0px;line-height:28.0px">755</div>
<div class="a num gr" style="right:374.40px;top:619.87px;font-size:26.5px;line-height:26.5px">16</div>
<svg class="a" style="left:872px;top:618px" width="322" height="28"><rect x="0.000" y="0" width="7.338" height="28" fill="#f0f0f0"/><rect x="7.318" y="0" width="7.338" height="28" fill="#f0f0f0"/><rect x="14.636" y="0" width="7.338" height="28" fill="#f0f0f0"/><rect x="21.955" y="0" width="7.338" height="28" fill="#f0f0f0"/><rect x="29.273" y="0" width="7.338" height="28" fill="#f0f0f0"/><rect x="36.591" y="0" width="7.338" height="28" fill="#f0f0f0"/><rect x="43.909" y="0" width="7.338" height="28" fill="#f0f0f0"/><rect x="51.227" y="0" width="7.338" height="28" fill="#f0f0f0"/><rect x="58.545" y="0" width="7.338" height="28" fill="#f0f0f0"/><rect x="65.864" y="0" width="7.338" height="28" fill="#f0f0f0"/><rect x="73.182" y="0" width="7.338" height="28" fill="#f0f0f0"/><rect x="80.500" y="0" width="7.338" height="28" fill="#f0f0f0"/><rect x="87.818" y="0" width="7.338" height="28" fill="#f0f0f0"/><rect x="95.136" y="0" width="7.338" height="28" fill="#f0f0f0"/><rect x="102.455" y="0" width="7.338" height="28" fill="#f0f0f0"/><rect x="109.773" y="0" width="7.338" height="28" fill="#f0f0f0"/><rect x="117.091" y="0" width="7.338" height="28" fill="#f0f0f0"/><rect x="124.409" y="0" width="7.338" height="28" fill="#f0f0f0"/><rect x="131.727" y="0" width="7.338" height="28" fill="#f0f0f0"/><rect x="139.045" y="0" width="7.338" height="28" fill="#fd6724"/><rect x="146.364" y="0" width="7.338" height="28" fill="#fd6724"/><rect x="153.682" y="0" width="7.338" height="28" fill="#fd6724"/><rect x="161.000" y="0" width="7.338" height="28" fill="#fd6724"/><rect x="168.318" y="0" width="7.338" height="28" fill="#fd6724"/><rect x="175.636" y="0" width="7.338" height="28" fill="#fd6724"/><rect x="182.955" y="0" width="7.338" height="28" fill="#fd6724"/><rect x="190.273" y="0" width="7.338" height="28" fill="#fd6724"/><rect x="197.591" y="0" width="7.338" height="28" fill="#fd6724"/><rect x="204.909" y="0" width="7.338" height="28" fill="#fd6724"/><rect x="212.227" y="0" width="7.338" height="28" fill="#fd6724"/><rect x="219.545" y="0" width="7.338" height="28" fill="#fd6724"/><rect x="226.864" y="0" width="7.338" height="28" fill="#f7a23d"/><rect x="234.182" y="0" width="7.338" height="28" fill="#f7a23d"/><rect x="241.500" y="0" width="7.338" height="28" fill="#f7a23d"/><rect x="248.818" y="0" width="7.338" height="28" fill="#f7a23d"/><rect x="256.136" y="0" width="7.338" height="28" fill="#f7a23d"/><rect x="263.455" y="0" width="7.338" height="28" fill="#f7a23d"/><rect x="270.773" y="0" width="7.338" height="28" fill="#f7a23d"/><rect x="278.091" y="0" width="7.338" height="28" fill="#f7a23d"/><rect x="285.409" y="0" width="7.338" height="28" fill="#f7a23d"/><rect x="292.727" y="0" width="7.338" height="28" fill="#f7a23d"/><rect x="300.045" y="0" width="7.338" height="28" fill="#f7a23d"/><rect x="307.364" y="0" width="7.338" height="28" fill="#fbd49b"/><rect x="314.682" y="0" width="7.338" height="28" fill="#f3e5d5"/><g fill="#fff" fill-opacity="0.4"><rect x="6.818" y="0" width="1" height="28"/><rect x="14.136" y="0" width="1" height="28"/><rect x="21.455" y="0" width="1" height="28"/><rect x="28.773" y="0" width="1" height="28"/><rect x="36.091" y="0" width="1" height="28"/><rect x="43.409" y="0" width="1" height="28"/><rect x="50.727" y="0" width="1" height="28"/><rect x="58.045" y="0" width="1" height="28"/><rect x="65.364" y="0" width="1" height="28"/><rect x="72.682" y="0" width="1" height="28"/><rect x="80.000" y="0" width="1" height="28"/><rect x="87.318" y="0" width="1" height="28"/><rect x="94.636" y="0" width="1" height="28"/><rect x="101.955" y="0" width="1" height="28"/><rect x="109.273" y="0" width="1" height="28"/><rect x="116.591" y="0" width="1" height="28"/><rect x="123.909" y="0" width="1" height="28"/><rect x="131.227" y="0" width="1" height="28"/><rect x="138.545" y="0" width="1" height="28"/><rect x="145.864" y="0" width="1" height="28"/><rect x="153.182" y="0" width="1" height="28"/><rect x="160.500" y="0" width="1" height="28"/><rect x="167.818" y="0" width="1" height="28"/><rect x="175.136" y="0" width="1" height="28"/><rect x="182.455" y="0" width="1" height="28"/><rect x="189.773" y="0" width="1" height="28"/><rect x="197.091" y="0" width="1" height="28"/><rect x="204.409" y="0" width="1" height="28"/><rect x="211.727" y="0" width="1" height="28"/><rect x="219.045" y="0" width="1" height="28"/><rect x="226.364" y="0" width="1" height="28"/><rect x="233.682" y="0" width="1" height="28"/><rect x="241.000" y="0" width="1" height="28"/><rect x="248.318" y="0" width="1" height="28"/><rect x="255.636" y="0" width="1" height="28"/><rect x="262.955" y="0" width="1" height="28"/><rect x="270.273" y="0" width="1" height="28"/><rect x="277.591" y="0" width="1" height="28"/><rect x="284.909" y="0" width="1" height="28"/><rect x="292.227" y="0" width="1" height="28"/><rect x="299.545" y="0" width="1" height="28"/><rect x="306.864" y="0" width="1" height="28"/><rect x="314.182" y="0" width="1" height="28"/></g></svg>
<div class="ln" style="top:674px;background:#e2e2e2"></div>
<div class="circ" style="top:700px"></div>
<svg class="a" style="left:14px;top:700px" width="32" height="32"><path d="M8.1 16H22M15 9.2V22.6" stroke="#1e1e1e" stroke-width="1.7" fill="none"/></svg>
<div class="a nm" style="left:52.16px;top:700.60px;transform:scaleX(0.9325)">Florida</div>
<div class="a mp" style="left:140.30px;top:705.55px;font-size:22.5px;line-height:22.5px;transform:scaleX(0.9130)">MAP</div>
<div class="a mp" style="left:188.50px;top:706.47px;font-size:20px;line-height:20px">»</div>
<div class="a num" style="right:731.00px;top:700.60px;font-size:28.0px;line-height:28.0px">17,960</div>
<div class="a num gr" style="right:610.60px;top:701.87px;font-size:26.5px;line-height:26.5px">87</div>
<div class="a num" style="right:494.90px;top:700.60px;font-size:28.0px;line-height:28.0px">418</div>
<div class="a num gr" style="right:374.40px;top:701.87px;font-size:26.5px;line-height:26.5px">2</div>
<svg class="a" style="left:872px;top:700px" width="322" height="28"><rect x="0.000" y="0" width="7.338" height="28" fill="#f0f0f0"/><rect x="7.318" y="0" width="7.338" height="28" fill="#f0f0f0"/><rect x="14.636" y="0" width="7.338" height="28" fill="#f0f0f0"/><rect x="21.955" y="0" width="7.338" height="28" fill="#f0f0f0"/><rect x="29.273" y="0" width="7.338" height="28" fill="#f0f0f0"/><rect x="36.591" y="0" width="7.338" height="28" fill="#f0f0f0"/><rect x="43.909" y="0" width="7.338" height="28" fill="#f0f0f0"/><rect x="51.227" y="0" width="7.338" height="28" fill="#f0f0f0"/><rect x="58.545" y="0" width="7.338" height="28" fill="#f0f0f0"/><rect x="65.864" y="0" width="7.338" height="28" fill="#f0f0f0"/><rect x="73.182" y="0" width="7.338" height="28" fill="#f0f0f0"/><rect x="80.500" y="0" width="7.338" height="28" fill="#fd6724"/><rect x="87.818" y="0" width="7.338" height="28" fill="#fd6724"/><rect x="95.136" y="0" width="7.338" height="28" fill="#fd6724"/><rect x="102.455" y="0" width="7.338" height="28" fill="#fd6724"/><rect x="109.773" y="0" width="7.338" height="28" fill="#fd6724"/><rect x="117.091" y="0" width="7.338" height="28" fill="#fd6724"/><rect x="124.409" y="0" width="7.338" height="28" fill="#fd6724"/><rect x="131.727" y="0" width="7.338" height="28" fill="#fd6724"/><rect x="139.045" y="0" width="7.338" height="28" fill="#fd6724"/><rect x="146.364" y="0" width="7.338" height="28" fill="#fd6724"/><rect x="153.682" y="0" width="7.338" height="28" fill="#fd6724"/><rect x="161.000" y="0" width="7.338" height="28" fill="#fd6724"/><rect x="168.318" y="0" width="7.338" height="28" fill="#fd6724"/><rect x="175.636" y="0" width="7.338" height="28" fill="#fd6724"/><rect x="182.955" y="0" width="7.338" height="28" fill="#fd6724"/><rect x="190.273" y="0" width="7.338" height="28" fill="#fd6724"/><rect x="197.591" y="0" width="7.338" height="28" fill="#fd6724"/><rect x="204.909" y="0" width="7.338" height="28" fill="#fd6724"/><rect x="212.227" y="0" width="7.338" height="28" fill="#fd6724"/><rect x="219.545" y="0" width="7.338" height="28" fill="#fd6724"/><rect x="226.864" y="0" width="7.338" height="28" fill="#fd6724"/><rect x="234.182" y="0" width="7.338" height="28" fill="#fd6724"/><rect x="241.500" y="0" width="7.338" height="28" fill="#f7a23d"/><rect x="248.818" y="0" width="7.338" height="28" fill="#f7a23d"/><rect x="256.136" y="0" width="7.338" height="28" fill="#f7a23d"/><rect x="263.455" y="0" width="7.338" height="28" fill="#f7a23d"/><rect x="270.773" y="0" width="7.338" height="28" fill="#f7a23d"/><rect x="278.091" y="0" width="7.338" height="28" fill="#f7a23d"/><rect x="285.409" y="0" width="7.338" height="28" fill="#fbd49b"/><rect x="292.727" y="0" width="7.338" height="28" fill="#fbd49b"/><rect x="300.045" y="0" width="7.338" height="28" fill="#fbd49b"/><rect x="307.364" y="0" width="7.338" height="28" fill="#f3e5d5"/><rect x="314.682" y="0" width="7.338" height="28" fill="#f3e5d5"/><g fill="#fff" fill-opacity="0.4"><rect x="6.818" y="0" width="1" height="28"/><rect x="14.136" y="0" width="1" height="28"/><rect x="21.455" y="0" width="1" height="28"/><rect x="28.773" y="0" width="1" height="28"/><rect x="36.091" y="0" width="1" height="28"/><rect x="43.409" y="0" width="1" height="28"/><rect x="50.727" y="0" width="1" height="28"/><rect x="58.045" y="0" width="1" height="28"/><rect x="65.364" y="0" width="1" height="28"/><rect x="72.682" y="0" width="1" height="28"/><rect x="80.000" y="0" width="1" height="28"/><rect x="87.318" y="0" width="1" height="28"/><rect x="94.636" y="0" width="1" height="28"/><rect x="101.955" y="0" width="1" height="28"/><rect x="109.273" y="0" width="1" height="28"/><rect x="116.591" y="0" width="1" height="28"/><rect x="123.909" y="0" width="1" height="28"/><rect x="131.227" y="0" width="1" height="28"/><rect x="138.545" y="0" width="1" height="28"/><rect x="145.864" y="0" width="1" height="28"/><rect x="153.182" y="0" width="1" height="28"/><rect x="160.500" y="0" width="1" height="28"/><rect x="167.818" y="0" width="1" height="28"/><rect x="175.136" y="0" width="1" height="28"/><rect x="182.455" y="0" width="1" height="28"/><rect x="189.773" y="0" width="1" height="28"/><rect x="197.091" y="0" width="1" height="28"/><rect x="204.409" y="0" width="1" height="28"/><rect x="211.727" y="0" width="1" height="28"/><rect x="219.045" y="0" width="1" height="28"/><rect x="226.364" y="0" width="1" height="28"/><rect x="233.682" y="0" width="1" height="28"/><rect x="241.000" y="0" width="1" height="28"/><rect x="248.318" y="0" width="1" height="28"/><rect x="255.636" y="0" width="1" height="28"/><rect x="262.955" y="0" width="1" height="28"/><rect x="270.273" y="0" width="1" height="28"/><rect x="277.591" y="0" width="1" height="28"/><rect x="284.909" y="0" width="1" height="28"/><rect x="292.227" y="0" width="1" height="28"/><rect x="299.545" y="0" width="1" height="28"/><rect x="306.864" y="0" width="1" height="28"/><rect x="314.182" y="0" width="1" height="28"/></g></svg>
<div class="ln" style="top:756px;background:#e2e2e2"></div>
<div class="circ" style="top:782px"></div>
<svg class="a" style="left:14px;top:782px" width="32" height="32"><path d="M8.1 16H22M15 9.2V22.6" stroke="#1e1e1e" stroke-width="1.7" fill="none"/></svg>
<div class="a nm" style="left:51.77px;top:782.60px;transform:scaleX(0.9808)">Illinois</div>
<div class="a mp" style="left:135.00px;top:787.55px;font-size:22.5px;line-height:22.5px;transform:scaleX(0.9130)">MAP</div>
<div class="a mp" style="left:183.20px;top:788.47px;font-size:20px;line-height:20px">»</div>
<div class="a num" style="right:731.00px;top:782.60px;font-size:28.0px;line-height:28.0px">17,887</div>
<div class="a num gr" style="right:610.60px;top:783.87px;font-size:26.5px;line-height:26.5px">140</div>
<div class="a num" style="right:494.90px;top:782.60px;font-size:28.0px;line-height:28.0px">608</div>
<div class="a num gr" style="right:374.40px;top:783.87px;font-size:26.5px;line-height:26.5px">5</div>
<svg class="a" style="left:872px;top:782px" width="322" height="28"><rect x="0.000" y="0" width="7.338" height="28" fill="#f3e5d5"/><rect x="7.318" y="0" width="7.338" height="28" fill="#f3e5d5"/><rect x="14.636" y="0" width="7.338" height="28" fill="#f3e5d5"/><rect x="21.955" y="0" width="7.338" height="28" fill="#f3e5d5"/><rect x="29.273" y="0" width="7.338" height="28" fill="#f3e5d5"/><rect x="36.591" y="0" width="7.338" height="28" fill="#f3e5d5"/><rect x="43.909" y="0" width="7.338" height="28" fill="#fbd49b"/><rect x="51.227" y="0" width="7.338" height="28" fill="#fbd49b"/><rect x="58.545" y="0" width="7.338" height="28" fill="#fbd49b"/><rect x="65.864" y="0" width="7.338" height="28" fill="#fbd49b"/><rect x="73.182" y="0" width="7.338" height="28" fill="#fbd49b"/><rect x="80.500" y="0" width="7.338" height="28" fill="#fbd49b"/><rect x="87.818" y="0" width="7.338" height="28" fill="#fbd49b"/><rect x="95.136" y="0" width="7.338" height="28" fill="#f7a23d"/><rect x="102.455" y="0" width="7.338" height="28" fill="#fd6724"/><rect x="109.773" y="0" width="7.338" height="28" fill="#fd6724"/><rect x="117.091" y="0" width="7.338" height="28" fill="#fd6724"/><rect x="124.409" y="0" width="7.338" height="28" fill="#fd6724"/><rect x="131.727" y="0" width="7.338" height="28" fill="#fd6724"/><rect x="139.045" y="0" width="7.338" height="28" fill="#fd6724"/><rect x="146.364" y="0" width="7.338" height="28" fill="#fd6724"/><rect x="153.682" y="0" width="7.338" height="28" fill="#fd6724"/><rect x="161.000" y="0" width="7.338" height="28" fill="#fd6724"/><rect x="168.318" y="0" width="7.338" height="28" fill="#fd6724"/><rect x="175.636" y="0" width="7.338" height="28" fill="#fd6724"/><rect x="182.955" y="0" width="7.338" height="28" fill="#fd6724"/><rect x="190.273" y="0" width="7.338" height="28" fill="#fd6724"/><rect x="197.591" y="0" width="7.338" height="28" fill="#fd6724"/><rect x="204.909" y="0" width="7.338" height="28" fill="#fd6724"/><rect x="212.227" y="0" width="7.338" height="28" fill="#fd6724"/><rect x="219.545" y="0" width="7.338" height="28" fill="#fd6724"/><rect x="226.864" y="0" width="7.338" height="28" fill="#f7a23d"/><rect x="234.182" y="0" width="7.338" height="28" fill="#f7a23d"/><rect x="241.500" y="0" width="7.338" height="28" fill="#f7a23d"/><rect x="248.818" y="0" width="7.338" height="28" fill="#f7a23d"/><rect x="256.136" y="0" width="7.338" height="28" fill="#f7a23d"/><rect x="263.455" y="0" width="7.338" height="28" fill="#f7a23d"/><rect x="270.773" y="0" width="7.338" height="28" fill="#f7a23d"/><rect x="278.091" y="0" width="7.338" height="28" fill="#f7a23d"/><rect x="285.409" y="0" width="7.338" height="28" fill="#fbd49b"/><rect x="292.727" y="0" width="7.338" height="28" fill="#fbd49b"/><rect x="300.045" y="0" width="7.338" height="28" fill="#fbd49b"/><rect x="307.364" y="0" width="7.338" height="28" fill="#fbd49b"/><rect x="314.682" y="0" width="7.338" height="28" fill="#fbd49b"/><g fill="#fff" fill-opacity="0.4"><rect x="6.818" y="0" width="1" height="28"/><rect x="14.136" y="0" width="1" height="28"/><rect x="21.455" y="0" width="1" height="28"/><rect x="28.773" y="0" width="1" height="28"/><rect x="36.091" y="0" width="1" height="28"/><rect x="43.409" y="0" width="1" height="28"/><rect x="50.727" y="0" width="1" height="28"/><rect x="58.045" y="0" width="1" height="28"/><rect x="65.364" y="0" width="1" height="28"/><rect x="72.682" y="0" width="1" height="28"/><rect x="80.000" y="0" width="1" height="28"/><rect x="87.318" y="0" width="1" height="28"/><rect x="94.636" y="0" width="1" height="28"/><rect x="101.955" y="0" width="1" height="28"/><rect x="109.273" y="0" width="1" height="28"/><rect x="116.591" y="0" width="1" height="28"/><rect x="123.909" y="0" width="1" height="28"/><rect x="131.227" y="0" width="1" height="28"/><rect x="138.545" y="0" width="1" height="28"/><rect x="145.864" y="0" width="1" height="28"/><rect x="153.182" y="0" width="1" height="28"/><rect x="160.500" y="0" width="1" height="28"/><rect x="167.818" y="0" width="1" height="28"/><rect x="175.136" y="0" width="1" height="28"/><rect x="182.455" y="0" width="1" height="28"/><rect x="189.773" y="0" width="1" height="28"/><rect x="197.091" y="0" width="1" height="28"/><rect x="204.409" y="0" width="1" height="28"/><rect x="211.727" y="0" width="1" height="28"/><rect x="219.045" y="0" width="1" height="28"/><rect x="226.364" y="0" width="1" height="28"/><rect x="233.682" y="0" width="1" height="28"/><rect x="241.000" y="0" width="1" height="28"/><rect x="248.318" y="0" width="1" height="28"/><rect x="255.636" y="0" width="1" height="28"/><rect x="262.955" y="0" width="1" height="28"/><rect x="270.273" y="0" width="1" height="28"/><rect x="277.591" y="0" width="1" height="28"/><rect x="284.909" y="0" width="1" height="28"/><rect x="292.227" y="0" width="1" height="28"/><rect x="299.545" y="0" width="1" height="28"/><rect x="306.864" y="0" width="1" height="28"/><rect x="314.182" y="0" width="1" height="28"/></g></svg>
<div class="ln" style="top:838px;background:#e2e2e2"></div>
<div class="circ" style="top:864px"></div>
<svg class="a" style="left:14px;top:864px" width="32" height="32"><path d="M8.1 16H22M15 9.2V22.6" stroke="#1e1e1e" stroke-width="1.7" fill="none"/></svg>
<div class="a nm" style="left:50.64px;top:864.60px;transform:scaleX(0.9075)">Texas</div>
<div class="a mp" style="left:124.10px;top:869.55px;font-size:22.5px;line-height:22.5px;transform:scaleX(0.9130)">MAP</div>
<div class="a mp" style="left:172.30px;top:870.47px;font-size:20px;line-height:20px">»</div>
<div class="a num" style="right:731.00px;top:864.60px;font-size:28.0px;line-height:28.0px">11,930</div>
<div class="a num gr" style="right:610.60px;top:865.87px;font-size:26.5px;line-height:26.5px">43</div>
<div class="a num" style="right:494.90px;top:864.60px;font-size:28.0px;line-height:28.0px">240</div>
<svg class="a" style="left:800px;top:860px" width="20" height="32"><path d="M15.8 13.8L4.9 20.6L15.8 27.4" stroke="#999" stroke-width="2" fill="none"/></svg>
<div class="a num gr" style="right:375.70px;top:865.87px;font-size:26.5px;line-height:26.5px">1</div>
<svg class="a" style="left:872px;top:864px" width="322" height="28"><rect x="0.000" y="0" width="7.338" height="28" fill="#fd6724"/><rect x="7.318" y="0" width="7.338" height="28" fill="#fd6724"/><rect x="14.636" y="0" width="7.338" height="28" fill="#f7a23d"/><rect x="21.955" y="0" width="7.338" height="28" fill="#f7a23d"/><rect x="29.273" y="0" width="7.338" height="28" fill="#f3e5d5"/><rect x="36.591" y="0" width="7.338" height="28" fill="#f3e5d5"/><rect x="43.909" y="0" width="7.338" height="28" fill="#f3e5d5"/><rect x="51.227" y="0" width="7.338" height="28" fill="#f3e5d5"/><rect x="58.545" y="0" width="7.338" height="28" fill="#f3e5d5"/><rect x="65.864" y="0" width="7.338" height="28" fill="#f3e5d5"/><rect x="73.182" y="0" width="7.338" height="28" fill="#f3e5d5"/><rect x="80.500" y="0" width="7.338" height="28" fill="#fbd49b"/><rect x="87.818" y="0" width="7.338" height="28" fill="#fbd49b"/><rect x="95.136" y="0" width="7.338" height="28" fill="#f7a23d"/><rect x="102.455" y="0" width="7.338" height="28" fill="#fbd49b"/><rect x="109.773" y="0" width="7.338" height="28" fill="#fbd49b"/><rect x="117.091" y="0" width="7.338" height="28" fill="#f7a23d"/><rect x="124.409" y="0" width="7.338" height="28" fill="#f7a23d"/><rect x="131.727" y="0" width="7.338" height="28" fill="#f7a23d"/><rect x="139.045" y="0" width="7.338" height="28" fill="#f7a23d"/><rect x="146.364" y="0" width="7.338" height="28" fill="#f7a23d"/><rect x="153.682" y="0" width="7.338" height="28" fill="#f7a23d"/><rect x="161.000" y="0" width="7.338" height="28" fill="#f7a23d"/><rect x="168.318" y="0" width="7.338" height="28" fill="#fd6724"/><rect x="175.636" y="0" width="7.338" height="28" fill="#fd6724"/><rect x="182.955" y="0" width="7.338" height="28" fill="#fd6724"/><rect x="190.273" y="0" width="7.338" height="28" fill="#fd6724"/><rect x="197.591" y="0" width="7.338" height="28" fill="#fd6724"/><rect x="204.909" y="0" width="7.338" height="28" fill="#fd6724"/><rect x="212.227" y="0" width="7.338" height="28" fill="#fd6724"/><rect x="219.545" y="0" width="7.338" height="28" fill="#f7a23d"/><rect x="226.864" y="0" width="7.338" height="28" fill="#f7a23d"/><rect x="234.182" y="0" width="7.338" height="28" fill="#f7a23d"/><rect x="241.500" y="0" width="7.338" height="28" fill="#f7a23d"/><rect x="248.818" y="0" width="7.338" height="28" fill="#f7a23d"/><rect x="256.136" y="0" width="7.338" height="28" fill="#f7a23d"/><rect x="263.455" y="0" width="7.338" height="28" fill="#f7a23d"/><rect x="270.773" y="0" width="7.338" height="28" fill="#f7a23d"/><rect x="278.091" y="0" width="7.338" height="28" fill="#f7a23d"/><rect x="285.409" y="0" width="7.338" height="28" fill="#f7a23d"/><rect x="292.727" y="0" width="7.338" height="28" fill="#f7a23d"/><rect x="300.045" y="0" width="7.338" height="28" fill="#fbd49b"/><rect x="307.364" y="0" width="7.338" height="28" fill="#fbd49b"/><rect x="314.682" y="0" width="7.338" height="28" fill="#fbd49b"/><g fill="#fff" fill-opacity="0.4"><rect x="6.818" y="0" width="1" height="28"/><rect x="14.136" y="0" width="1" height="28"/><rect x="21.455" y="0" width="1" height="28"/><rect x="28.773" y="0" width="1" height="28"/><rect x="36.091" y="0" width="1" height="28"/><rect x="43.409" y="0" width="1" height="28"/><rect x="50.727" y="0" width="1" height="28"/><rect x="58.045" y="0" width="1" height="28"/><rect x="65.364" y="0" width="1" height="28"/><rect x="72.682" y="0" width="1" height="28"/><rect x="80.000" y="0" width="1" height="28"/><rect x="87.318" y="0" width="1" height="28"/><rect x="94.636" y="0" width="1" height="28"/><rect x="101.955" y="0" width="1" height="28"/><rect x="109.273" y="0" width="1" height="28"/><rect x="116.591" y="0" width="1" height="28"/><rect x="123.909" y="0" width="1" height="28"/><rect x="131.227" y="0" width="1" height="28"/><rect x="138.545" y="0" width="1" height="28"/><rect x="145.864" y="0" width="1" height="28"/><rect x="153.182" y="0" width="1" height="28"/><rect x="160.500" y="0" width="1" height="28"/><rect x="167.818" y="0" width="1" height="28"/><rect x="175.136" y="0" width="1" height="28"/><rect x="182.455" y="0" width="1" height="28"/><rect x="189.773" y="0" width="1" height="28"/><rect x="197.091" y="0" width="1" height="28"/><rect x="204.409" y="0" width="1" height="28"/><rect x="211.727" y="0" width="1" height="28"/><rect x="219.045" y="0" width="1" height="28"/><rect x="226.364" y="0" width="1" height="28"/><rect x="233.682" y="0" width="1" height="28"/><rect x="241.000" y="0" width="1" height="28"/><rect x="248.318" y="0" width="1" height="28"/><rect x="255.636" y="0" width="1" height="28"/><rect x="262.955" y="0" width="1" height="28"/><rect x="270.273" y="0" width="1" height="28"/><rect x="277.591" y="0" width="1" height="28"/><rect x="284.909" y="0" width="1" height="28"/><rect x="292.227" y="0" width="1" height="28"/><rect x="299.545" y="0" width="1" height="28"/><rect x="306.864" y="0" width="1" height="28"/><rect x="314.182" y="0" width="1" height="28"/></g></svg>
<div class="ln" style="top:920px;background:#e2e2e2"></div>
<div class="ln" style="top:922px;background:#f9f9f9"></div>
</body></html>
